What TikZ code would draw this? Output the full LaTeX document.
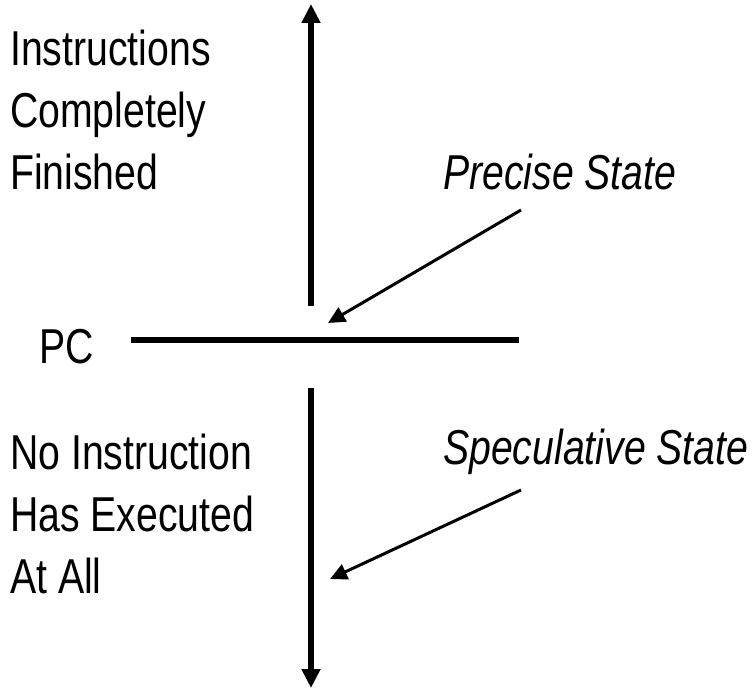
\documentclass[tikz,border=0pt]{standalone}
\usepackage{fontspec}
\setmainfont{Liberation Sans}[FakeStretch=0.8]
\usetikzlibrary{arrows.meta}
\begin{document}
\begin{tikzpicture}[x=1pt, y=-1pt,
    every node/.style={font=\fontsize{49}{62}\selectfont, align=left, inner sep=0pt},
    axis/.style={line width=6pt, -{Triangle[length=19pt, width=18pt]}},
    pointer/.style={line width=3pt, -{Triangle[length=17pt, width=16pt]}},
]
    \useasboundingbox (0,0) rectangle (754,690);
    \node[anchor=west] (done) at (10,110) {Instructions\\ Completely\\ Finished};
    \node[anchor=west] (none) at (10,514) {No Instruction\\ Has Executed\\ At All};
    \node (pc) at (67,347) {PC};
    \node[anchor=west, font=\fontsize{49}{62}\selectfont\itshape] (precise) at (443,172) {Precise State};
    \node[anchor=west, font=\fontsize{49}{62}\selectfont\itshape] (spec) at (443,452) {Speculative State};
    \coordinate (upfrom) at (311,306);
    \coordinate (upto) at (311,4);
    \coordinate (downfrom) at (311,388);
    \coordinate (downto) at (311,688);
    \coordinate (lineW) at (131,340);
    \coordinate (lineE) at (519,340);
    \coordinate (precfrom) at (521,210);
    \coordinate (precto) at (328,323);
    \coordinate (specfrom) at (521,490);
    \coordinate (specto) at (330,579);
    \draw[axis] (upfrom) -- (upto);
    \draw[axis] (downfrom) -- (downto);
    \draw[line width=6pt] (lineW) -- (lineE);
    \draw[pointer] (precfrom) -- (precto);
    \draw[pointer] (specfrom) -- (specto);
\end{tikzpicture}
\end{document}
